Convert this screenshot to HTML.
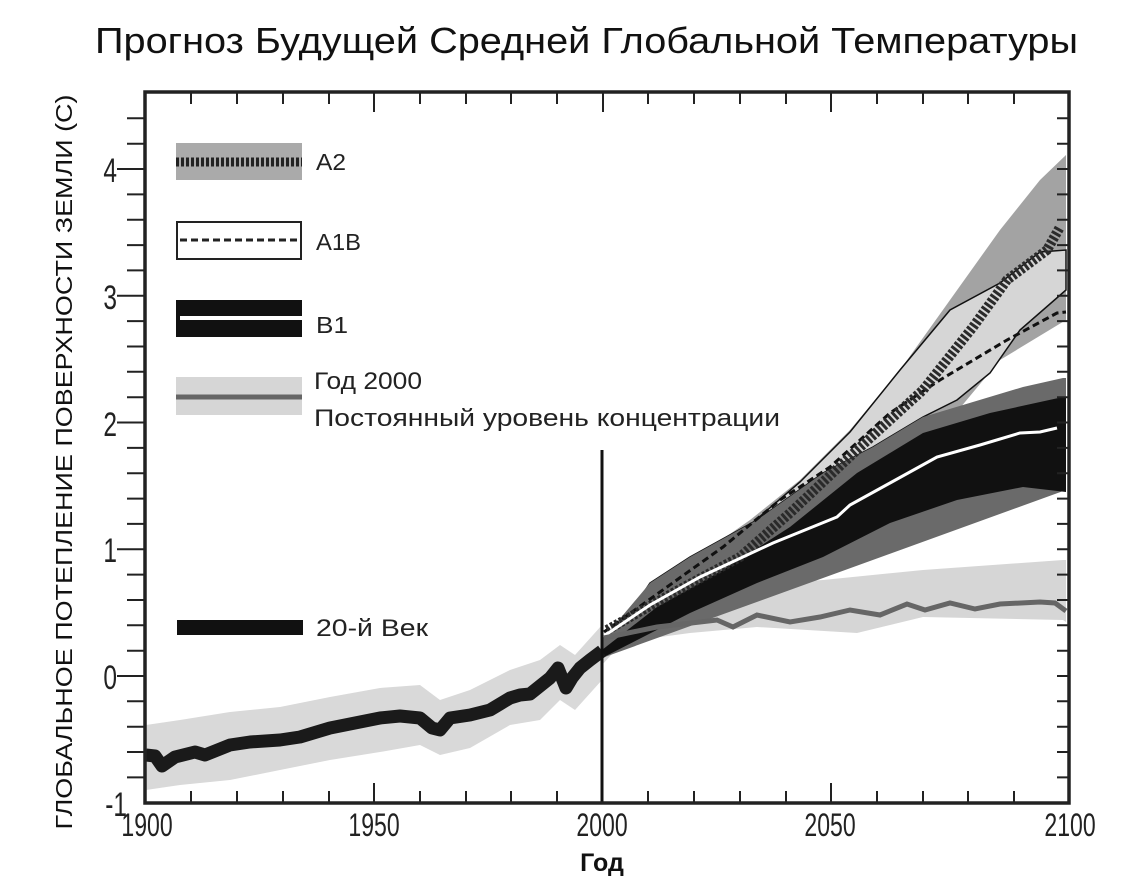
<!DOCTYPE html>
<html><head><meta charset="utf-8"><style>
body{margin:0;background:#fff}
svg{display:block}
text{font-family:"Liberation Sans","DejaVu Sans",sans-serif}
</style></head><body>
<svg width="1133" height="894" viewBox="0 0 1133 894" xmlns="http://www.w3.org/2000/svg">
<text x="95" y="53" font-size="36" textLength="983" lengthAdjust="spacingAndGlyphs" fill="#111">Прогноз Будущей Средней Глобальной Температуры</text>
<text transform="translate(72,462) rotate(-90)" font-size="23" text-anchor="middle" textLength="735" lengthAdjust="spacingAndGlyphs" fill="#111">ГЛОБАЛЬНОЕ ПОТЕПЛЕНИЕ ПОВЕРХНОСТИ ЗЕМЛИ (C)</text>

<!-- historical band -->
<polygon fill="#d9d9d9" points="146,725 180,720 230,712 280,707 330,697 380,688 420,685 440,700 470,690 510,670 540,660 560,645 575,655 602,625 602,680 575,710 560,700 540,720 510,725 470,748 440,755 420,745 380,752 330,760 280,770 230,780 180,785 146,790"/>
<!-- year 2000 band -->
<polygon fill="#d6d6d6" points="602,640 657,607 723,587 823,580 923,570 1063,560 1066,560 1066,622 1063,620 923,617 857,633 757,627 690,633 623,642 602,665"/>
<!-- A2 band -->
<polygon fill="#a3a3a3" points="602,640 650,585 700,555 750,520 800,480 850,430 900,370 950,300 1000,230 1040,180 1066,155 1066,320 1000,360 950,420 900,470 850,520 800,560 750,590 700,615 650,635 602,655"/>
<!-- A1B band -->
<polygon fill="#d6d6d6" stroke="#111" stroke-width="1.5" points="602,640 650,597 700,557 750,525 800,482 850,432 900,370 950,310 1000,283 1040,252 1066,250 1066,290 1020,330 990,373 957,400 923,417 873,447 823,473 757,520 690,557 650,583 602,655"/>
<!-- B1 dark gray -->
<polygon fill="#6a6a6a" points="602,640 650,583 690,557 757,520 823,473 873,447 923,417 1023,387 1063,378 1066,378 1066,490 602,658"/>
<!-- B1 black -->
<polygon fill="#111" points="602,650 657,607 723,570 790,527 857,473 923,433 990,413 1063,397 1066,397 1066,492 1023,487 957,500 890,523 823,557 757,583 690,613 602,658"/>
<!-- A1B dashed mean -->
<polyline fill="none" stroke="#111" stroke-width="3" stroke-dasharray="7 4" points="604,632 723,547 780,500 830,467 890,413 940,380 1007,340 1057,313 1066,312"/>
<!-- A2 hatched mean -->
<polyline fill="none" stroke="#2a2a2a" stroke-width="10" stroke-dasharray="3 2" points="607,630 673,593 740,557 790,513 857,450 923,390 973,327 1007,280 1047,250 1060,227"/>
<!-- B1 white mean -->
<polyline fill="none" stroke="#fff" stroke-width="3" points="604,636 650,605 700,577 773,543 837,517 850,505 890,483 937,457 980,445 1020,433 1040,432 1057,428"/>
<!-- year 2000 mean -->
<polyline fill="none" stroke="#666" stroke-width="5" points="604,638 657,627 717,620 733,627 757,615 790,622 820,617 850,610 880,615 907,604 925,610 950,603 975,609 1000,604 1040,602 1055,603 1066,611"/>
<!-- historical line -->
<polyline fill="none" stroke="#1a1a1a" stroke-width="13" stroke-linejoin="round" points="146,755 155,756 162,766 175,757 195,752 205,755 230,745 250,742 280,740 300,737 330,728 360,722 380,718 400,716 420,718 432,728 440,730 450,718 470,715 490,710 500,704 510,698 520,695 530,694 540,686 550,678 558,668 566,688 572,678 580,668 590,660 602,651"/>

<!-- 2000 line -->
<line x1="602" y1="450" x2="602" y2="803" stroke="#111" stroke-width="3"/>
<!-- frame -->
<rect x="145" y="92" width="924" height="711" fill="none" stroke="#222" stroke-width="3.5"/>
<g stroke="#222" stroke-width="2">
<path d="M191,92v12M237,92v12M283,92v12M329,92v12M374,92v20M420,92v12M466,92v12M511,92v12M557,92v12M603,92v20M648,92v12M694,92v12M740,92v12M786,92v12M831,92v20M877,92v12M923,92v12M968,92v12M1014,92v12
M191,803v-12M237,803v-12M283,803v-12M329,803v-12M374,803v-20M420,803v-12M466,803v-12M511,803v-12M557,803v-12M648,803v-12M694,803v-12M740,803v-12M786,803v-12M831,803v-20M877,803v-12M923,803v-12M968,803v-12M1014,803v-12"/>
<path d="M127,777.4h18M127,752h18M127,726.7h18M127,701.3h18M117,676h28M127,650.7h18M127,625.3h18M127,600h18M127,574.6h18M117,549.3h28M127,523.9h18M127,498.6h18M127,473.2h18M127,447.9h18M117,422.5h28M127,397.2h18M127,371.8h18M127,346.5h18M127,321.1h18M117,295.8h28M127,270.4h18M127,245.1h18M127,219.7h18M127,194.4h18M117,169h28M127,143.7h18M127,118.3h18
M1069,777.4h-12M1069,752h-12M1069,726.7h-12M1069,701.3h-12M1069,676h-12M1069,650.7h-12M1069,625.3h-12M1069,600h-12M1069,574.6h-12M1069,549.3h-12M1069,523.9h-12M1069,498.6h-12M1069,473.2h-12M1069,447.9h-12M1069,422.5h-12M1069,397.2h-12M1069,371.8h-12M1069,346.5h-12M1069,321.1h-12M1069,295.8h-12M1069,270.4h-12M1069,245.1h-12M1069,219.7h-12M1069,194.4h-12M1069,169h-12M1069,143.7h-12M1069,118.3h-12"/>
</g>
<g font-size="34" fill="#222" text-anchor="end">
<text transform="translate(117,182) scale(0.72,1)">4</text>
<text transform="translate(117,309) scale(0.72,1)">3</text>
<text transform="translate(117,436) scale(0.72,1)">2</text>
<text transform="translate(117,562) scale(0.72,1)">1</text>
<text transform="translate(117,689) scale(0.72,1)">0</text>
<text transform="translate(127,816) scale(0.72,1)">-1</text>
</g>
<g font-size="32" fill="#222" text-anchor="middle">
<text transform="translate(147,836) scale(0.72,1)">1900</text>
<text transform="translate(374,836) scale(0.72,1)">1950</text>
<text transform="translate(602,836) scale(0.72,1)">2000</text>
<text transform="translate(830,836) scale(0.72,1)">2050</text>
<text transform="translate(1070,836) scale(0.72,1)">2100</text>
</g>
<text x="602" y="871" font-size="25" font-weight="bold" text-anchor="middle" fill="#111">Год</text>

<!-- legend -->
<rect x="176" y="143" width="126" height="37" fill="#aaa"/>
<line x1="176" y1="162" x2="302" y2="162" stroke="#222" stroke-width="9" stroke-dasharray="3 2"/>
<text x="316" y="170" font-size="23" textLength="30" lengthAdjust="spacingAndGlyphs" fill="#222">A2</text>
<rect x="177" y="222" width="124" height="37" fill="#fff" stroke="#222" stroke-width="2"/>
<line x1="180" y1="240" x2="302" y2="240" stroke="#222" stroke-width="3" stroke-dasharray="7 4"/>
<text x="316" y="250" font-size="23" textLength="45" lengthAdjust="spacingAndGlyphs" fill="#222">A1B</text>
<rect x="176" y="300" width="126" height="37" fill="#111"/>
<line x1="180" y1="318" x2="302" y2="318" stroke="#fff" stroke-width="4"/>
<text x="316" y="333" font-size="23" textLength="32" lengthAdjust="spacingAndGlyphs" fill="#222">B1</text>
<rect x="176" y="377" width="126" height="38" fill="#d6d6d6"/>
<line x1="176" y1="397" x2="302" y2="397" stroke="#666" stroke-width="5"/>
<text x="314" y="389" font-size="24" textLength="108" lengthAdjust="spacingAndGlyphs" fill="#222">Год 2000</text>
<text x="314" y="426" font-size="24" textLength="466" lengthAdjust="spacingAndGlyphs" fill="#222">Постоянный уровень концентрации</text>
<rect x="177" y="620" width="126" height="15" fill="#111"/>
<text x="316" y="636" font-size="24" textLength="112" lengthAdjust="spacingAndGlyphs" fill="#222">20-й Век</text>
</svg>
</body></html>
